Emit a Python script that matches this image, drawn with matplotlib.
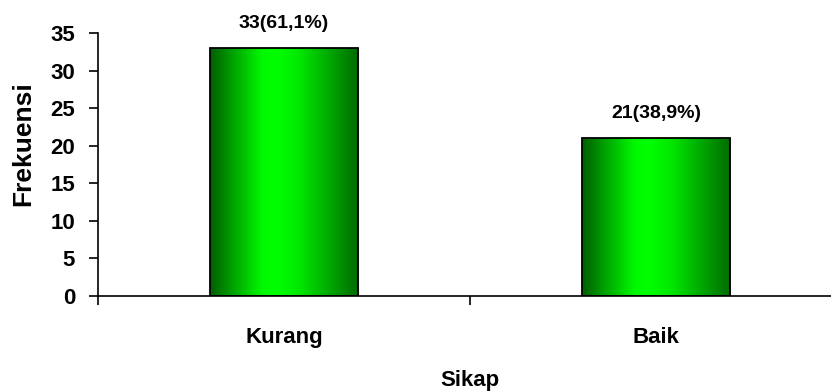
import numpy as np
import matplotlib
matplotlib.use("Agg")
import matplotlib.pyplot as plt
from matplotlib.colors import LinearSegmentedColormap
from matplotlib.patches import Rectangle

categories = ["Kurang", "Baik"]
frekuensi = [33, 21]
labels = ["33(61,1%)", "21(38,9%)"]
y_ticks = [0, 5, 10, 15, 20, 25, 30, 35]

plt.rcParams["font.family"] = ["Liberation Sans", "DejaVu Sans"]
plt.rcParams["font.weight"] = "bold"

W, H = 831, 391
fig = plt.figure(figsize=(W / 100, H / 100), dpi=100)
ax = fig.add_axes([98 / W, (H - 296) / H, 744 / W, 263 / H])

x = np.arange(len(categories))
width = 0.4

# horizontal green shading across each bar
cmap = LinearSegmentedColormap.from_list(
    "bar_green",
    [(0.0, "#005f00"), (0.35, "#00f800"), (0.45, "#00ff00"),
     (0.6, "#00e800"), (1.0, "#006a00")],
)
grad = np.linspace(0, 1, 256).reshape(1, -1)

bars = ax.bar(x, frekuensi, width=width, color="none", edgecolor="black",
              linewidth=1.3, zorder=3)
for bar in bars:
    x0, y0 = bar.get_x(), bar.get_y()
    w, h = bar.get_width(), bar.get_height()
    im = ax.imshow(grad, cmap=cmap, aspect="auto",
                   extent=[x0, x0 + w, y0, y0 + h], zorder=2)
    clip = Rectangle((x0, y0), w, h, transform=ax.transData)
    im.set_clip_path(clip)

for xi, v, lab in zip(x, frekuensi, labels):
    ax.annotate(lab, (xi, v), xytext=(0, 14.5), textcoords="offset points",
                ha="center", va="baseline", fontsize=14, fontweight="bold")

ax.set_xlim(-0.5, 1.5)
ax.set_ylim(0, 35)
ax.set_yticks(y_ticks)
ax.set_xticks(x)
ax.set_xticklabels(categories)
ax.set_xticks([-0.5, 0.5, 1.5], minor=True)

ax.tick_params(axis="y", direction="out", length=6.5, width=1.2, pad=10,
               labelsize=16)
ax.tick_params(axis="x", which="major", length=0, pad=22, labelsize=16)
ax.tick_params(axis="x", which="minor", direction="out", length=6.5,
               width=1.2)

for s in ["top", "right"]:
    ax.spines[s].set_visible(False)
ax.spines["left"].set_linewidth(1.2)
ax.spines["bottom"].set_linewidth(1.2)
ax.spines["left"].set_zorder(4)

fig.text(23 / W, (H - 143.5) / H, "Frekuensi", rotation=90, ha="center",
         va="center", fontsize=19, fontweight="bold")
fig.text(470 / W, (H - 386) / H, "Sikap", ha="center", va="baseline",
         fontsize=16, fontweight="bold")

fig.savefig("out.png", dpi=100)
